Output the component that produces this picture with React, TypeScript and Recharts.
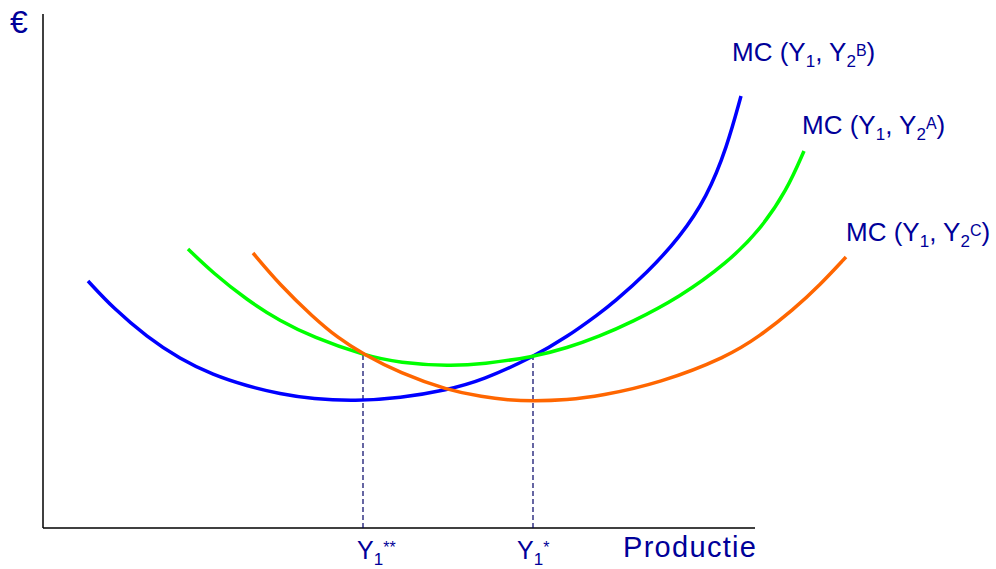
import { LineChart, Line, XAxis, YAxis, ReferenceLine, ReferenceDot } from 'recharts'

// units: x = output from the vertical axis, y = euro height above the horizontal axis
const mcB = [
	{ x: 45, y: 247 }, { x: 70, y: 220 }, { x: 104, y: 191 }, { x: 137, y: 169 }, { x: 170, y: 153 },
	{ x: 204, y: 142 }, { x: 237, y: 134 }, { x: 270, y: 129 }, { x: 312, y: 127 }, { x: 357, y: 130 },
	{ x: 404, y: 138 }, { x: 440, y: 148 }, { x: 490, y: 171 }, { x: 524, y: 191 }, { x: 557, y: 215 },
	{ x: 570, y: 225 }, { x: 604, y: 255 }, { x: 637, y: 291 }, { x: 664, y: 331 }, { x: 684, y: 381 },
	{ x: 698, y: 432 },
]
const mcA = [
	{ x: 145, y: 279 }, { x: 170, y: 255 }, { x: 204, y: 228 }, { x: 237, y: 207 }, { x: 270, y: 191 },
	{ x: 320, y: 173 }, { x: 357, y: 165 }, { x: 407, y: 162 }, { x: 440, y: 164 }, { x: 490, y: 171 },
	{ x: 524, y: 180 }, { x: 557, y: 192 }, { x: 587, y: 205 }, { x: 637, y: 231 }, { x: 684, y: 265 },
	{ x: 717, y: 298 }, { x: 744, y: 338 }, { x: 761, y: 377 },
]
const mcC = [
	{ x: 210, y: 275 }, { x: 237, y: 243 }, { x: 270, y: 211 }, { x: 295, y: 190 }, { x: 320, y: 174 },
	{ x: 357, y: 155 }, { x: 404, y: 138 }, { x: 440, y: 131 }, { x: 465, y: 128 }, { x: 490, y: 127 },
	{ x: 524, y: 128 }, { x: 557, y: 132 }, { x: 617, y: 145 }, { x: 684, y: 171 }, { x: 717, y: 192 },
	{ x: 750, y: 218 }, { x: 777, y: 243 }, { x: 803, y: 271 },
]
// Y1** and Y1*: where the curves cross
const crossings = [
	{ x: 320, y: 173, stars: '**', labelX: 314 },
	{ x: 490, y: 171, stars: '*', labelX: 474 },
]
const curveLabels = [
	{ sup: 'B', x: 689, y: 467 },
	{ sup: 'A', x: 759, y: 394 },
	{ sup: 'C', x: 803, y: 287 },
]
const axisEnd = { x: 712, y: 514 }

const ink = '#000099'
const font = '"Liberation Sans", Arial, sans-serif'

function anchor(viewBox: any) {
	return { x: viewBox.x + viewBox.width / 2, y: viewBox.y + viewBox.height / 2 }
}

const mcText = (sup: string) => (props: any) => {
	const { x, y } = anchor(props.viewBox)
	return (
		<text x={x} y={y} fill={ink} fontFamily={font} fontSize={26}>
			MC (Y<tspan fontSize={17} dy={6}>1</tspan>
			<tspan dy={-6}>, Y</tspan>
			<tspan fontSize={17} dy={6}>2</tspan>
			<tspan fontSize={16} dy={-11}>{sup}</tspan>
			<tspan dy={5}>)</tspan>
		</text>
	)
}

const yText = (stars: string) => (props: any) => {
	const { x, y } = anchor(props.viewBox)
	return (
		<text x={x} y={y} fill={ink} fontFamily={font} fontSize={25}>
			Y<tspan fontSize={17} dy={6}>1</tspan>
			<tspan fontSize={16} dy={-12}>{stars}</tspan>
		</text>
	)
}

const plainText = (s: string, size: number, spacing = 0) => (props: any) => {
	const { x, y } = anchor(props.viewBox)
	return (
		<text x={x} y={y} fill={ink} fontFamily={font} fontSize={size} letterSpacing={spacing}>
			{s}
		</text>
	)
}

export default function App() {
	return (
		<div style={{ position: 'absolute', left: 0, top: 0 }}>
			<LineChart width={996} height={569} margin={{ top: 0, right: 0, bottom: 0, left: 0 }}>
				<XAxis type="number" dataKey="x" domain={[-43, 953]} hide />
				<YAxis type="number" dataKey="y" domain={[-41, 528]} hide />
				<ReferenceLine segment={[{ x: 0, y: 0 }, { x: 0, y: axisEnd.y }]} stroke="#000" strokeWidth={1.5} />
				<ReferenceLine segment={[{ x: 0, y: 0 }, { x: axisEnd.x, y: 0 }]} stroke="#000" strokeWidth={1.5} />
				{crossings.map(c => (
					<ReferenceLine
						key={c.stars}
						segment={[{ x: c.x, y: 0 }, { x: c.x, y: c.y }]}
						stroke="#000066"
						strokeWidth={1.2}
						strokeDasharray="5 3"
					/>
				))}
				<Line data={mcB} dataKey="y" type="basis" stroke="#0000ff" strokeWidth={3.5} dot={false} activeDot={false} isAnimationActive={false} />
				<Line data={mcA} dataKey="y" type="basis" stroke="#00ff00" strokeWidth={3.5} dot={false} activeDot={false} isAnimationActive={false} />
				<Line data={mcC} dataKey="y" type="basis" stroke="#ff6600" strokeWidth={3.5} dot={false} activeDot={false} isAnimationActive={false} />
				{curveLabels.map(l => (
					<ReferenceDot key={l.sup} x={l.x} y={l.y} r={0} fill="none" stroke="none" label={mcText(l.sup)} />
				))}
				{crossings.map(c => (
					<ReferenceDot key={'t' + c.stars} x={c.labelX} y={-31} r={0} fill="none" stroke="none" label={yText(c.stars)} />
				))}
				<ReferenceDot x={580} y={-29} r={0} fill="none" stroke="none" label={plainText('Productie', 29, 1.3)} />
				<ReferenceDot x={-33} y={495} r={0} fill="none" stroke="none" label={plainText('€', 32)} />
			</LineChart>
		</div>
	)
}
